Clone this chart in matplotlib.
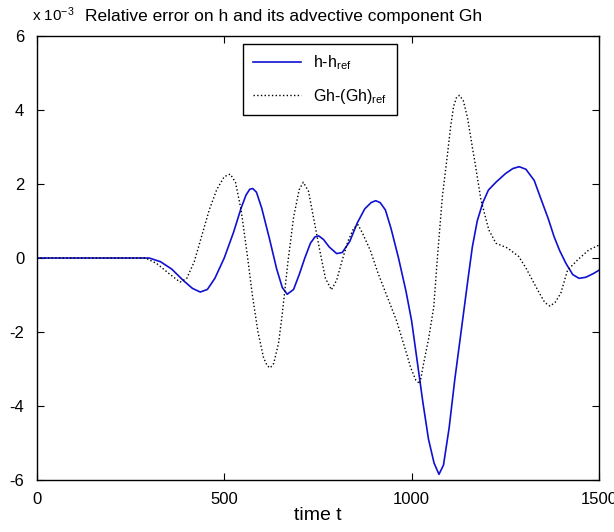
import numpy as np
import matplotlib
matplotlib.use('Agg')
import matplotlib.pyplot as plt

# values (y in units of 1e-3)
t_h = [0, 100, 200, 300, 330, 360, 390, 415, 436, 455, 475, 500, 525, 545, 558, 568, 576, 586,
       600, 620, 640, 655, 668, 685, 700, 715, 730, 742, 752, 765, 780, 800, 815, 835, 855, 875,
       892, 904, 916, 930, 945, 965, 985, 1000, 1015, 1030, 1045, 1060, 1073, 1085, 1100, 1115,
       1135, 1150, 1162, 1175, 1190, 1205, 1225, 1250, 1270, 1287, 1305, 1327, 1345, 1365,
       1380, 1395, 1412, 1430, 1447, 1465, 1485, 1500]
err_h = [0, 0, 0, 0, -0.1, -0.3, -0.6, -0.82, -0.92, -0.85, -0.55, 0.0, 0.7, 1.35, 1.7, 1.86, 1.88, 1.78,
         1.35, 0.55, -0.3, -0.8, -0.98, -0.85, -0.45, 0.0, 0.4, 0.57, 0.6, 0.5, 0.3, 0.12, 0.15, 0.45, 0.95, 1.33,
         1.5, 1.55, 1.5, 1.3, 0.8, 0.0, -0.9, -1.7, -2.8, -3.9, -4.9, -5.55, -5.85, -5.6, -4.6, -3.3,
         -1.76, -0.6, 0.3, 1.0, 1.5, 1.84, 2.05, 2.28, 2.42, 2.47, 2.4, 2.1, 1.6, 1.05,
         0.58, 0.2, -0.15, -0.45, -0.55, -0.52, -0.42, -0.33]

t_gh = [0, 100, 200, 290, 320, 350, 382, 400, 420, 440, 460, 480, 500, 516, 530, 545, 560, 575,
        590, 605, 615, 623, 632, 645, 655, 670, 685, 700, 711, 725, 740, 755, 770, 786, 800, 815, 830,
        845, 857, 870, 890, 910, 935, 960, 984, 997, 1011, 1022, 1032, 1045, 1059, 1069, 1082,
        1095, 1104, 1112, 1120, 1128, 1138, 1149, 1162, 1171, 1185, 1206, 1225, 1256, 1286, 1305,
        1336, 1355, 1369, 1383, 1398, 1416, 1443, 1473, 1500]
err_gh = [0, 0, 0, 0, -0.15, -0.4, -0.65, -0.55, -0.1, 0.6, 1.3, 1.85, 2.2, 2.27, 2.05, 1.3, 0.2, -1.0,
          -2.0, -2.7, -2.92, -2.97, -2.85, -2.3, -1.5, -0.1, 1.1, 1.85, 2.05, 1.8, 1.0, 0.2, -0.55, -0.86, -0.6, -0.05, 0.45,
          0.8, 0.9, 0.65, 0.2, -0.4, -1.05, -1.7, -2.5, -2.95, -3.3, -3.4, -2.85, -2.2, -1.33, 0.04, 1.66,
          2.75, 3.55, 4.1, 4.35, 4.4, 4.25, 3.8, 3.0, 2.46, 1.57, 0.76, 0.4, 0.27, 0.04, -0.27,
          -0.86, -1.2, -1.3, -1.2, -0.95, -0.33, -0.05, 0.22, 0.35]

plt.rcParams['font.family'] = 'Liberation Sans'
plt.rcParams['mathtext.default'] = 'regular'
plt.rc('font', size=10)

fig = plt.figure(figsize=(6.14, 5.32), dpi=100)
ax = fig.add_axes([0.060, 0.098, 0.9156, 0.834])

ax.plot(t_h, np.array(err_h) * 1e-3, color='#1010d0', lw=1.2, label='h-h$_{ref}$')
ax.plot(t_gh, np.array(err_gh) * 1e-3, color='black', lw=1.0, linestyle=':', label='Gh-(Gh)$_{ref}$')

ax.set_xlim(0, 1500)
ax.set_ylim(-6e-3, 6e-3)
ax.set_xticks([0, 500, 1000, 1500])
ax.set_yticks(np.arange(-6, 7, 2) * 1e-3)
ax.set_yticklabels([str(v) for v in range(-6, 7, 2)])
ax.tick_params(direction='in', top=True, right=True, length=5, labelsize=12)
ax.xaxis.set_tick_params(pad=9)
ax.yaxis.set_tick_params(pad=9)
for s in ax.spines.values():
    s.set_linewidth(1.0)

ax.set_xlabel('time t', fontsize=14, labelpad=0)
fig.text(0.052, 0.955, 'x 10$^{-3}$', fontsize=11, ha='left', va='bottom')
fig.text(0.139, 0.955, 'Relative error on h and its advective component Gh', fontsize=12.5,
         ha='left', va='bottom')

leg = ax.legend(loc='upper left', bbox_to_anchor=(0.367, 0.982), fancybox=False, framealpha=1,
                edgecolor='black', fontsize=11.5, handlelength=3.0, borderaxespad=0,
                labelspacing=0.9, borderpad=0.6)
leg.get_frame().set_linewidth(1.0)

fig.savefig('out.png', dpi=100)
